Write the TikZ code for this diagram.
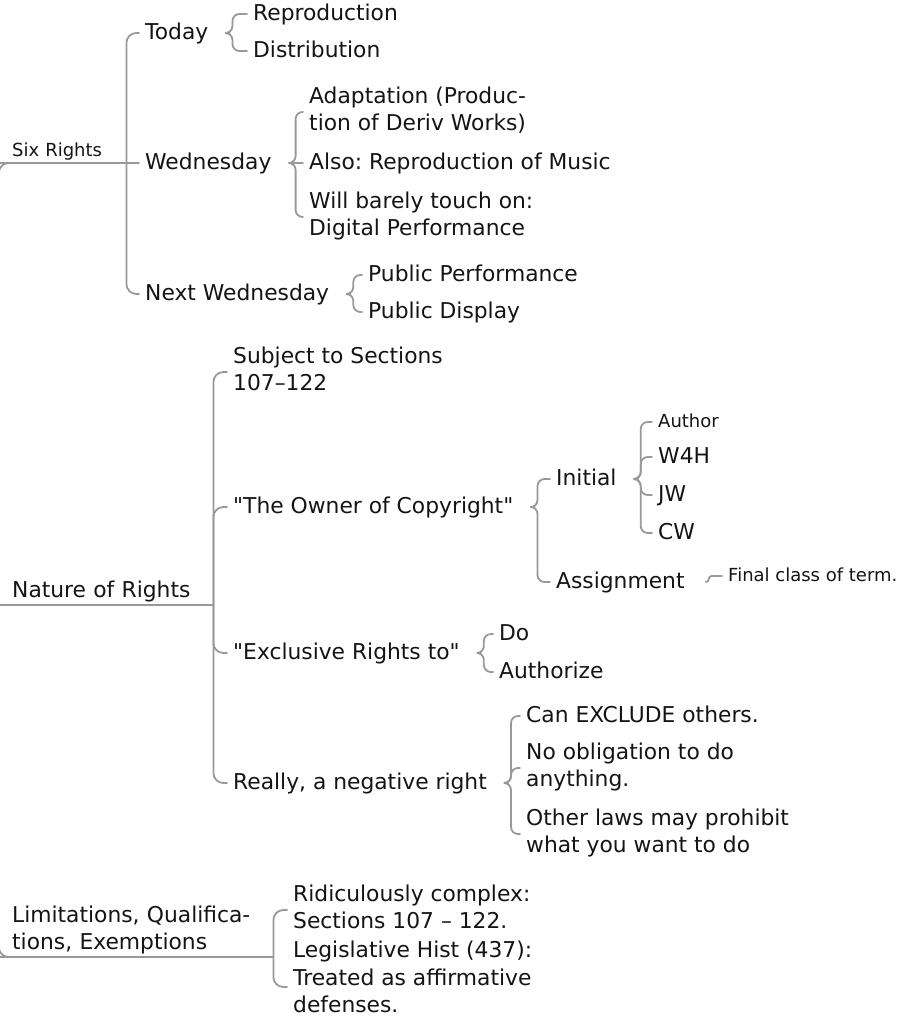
\documentclass[tikz,border=0pt]{standalone}
\usepackage{fontspec}
\setmainfont{DejaVu Sans}
\usepackage{tikz}

\definecolor{branchgray}{RGB}{153,153,153}
\definecolor{inkblack}{RGB}{20,20,20}
\newcommand{\bigtxt}{\fontsize{21.8}{27.3}\selectfont}
\newcommand{\smalltxt}{\fontsize{18}{22}\selectfont}
\newcommand{\mstrut}{\rule[-0.28em]{0pt}{1.12em}}

\tikzset{
	every node/.style={anchor=west, inner sep=0pt, align=left, text=inkblack, font=\bigtxt,
		execute at begin node=\mstrut, execute at end node=\mstrut},
	topic/.style={anchor=south west, inner xsep=4pt, inner ysep=1pt},
	wire/.style={draw=branchgray, line width=1.8pt, line cap=round},
	stem/.style={wire, rounded corners=10pt,
		to path={(\tikztostart) |- (\tikztotarget.south west) -- (\tikztotarget.south east)}},
	limb/.style={wire, rounded corners=10pt,
		to path={(\tikztostart.south east) |- ([xshift=-6pt]\tikztotarget.west)}},
	limbmid/.style={wire,
		to path={(\tikztostart.south east) -- ([xshift=-6pt]\tikztotarget.west)}},
	twig/.style={wire, rounded corners=7pt,
		to path={([xshift=21pt]\tikztostart.east) -- ++(3pt,0) |- ([xshift=-6pt]\tikztotarget.west)}},
	twigmid/.style={wire,
		to path={([xshift=21pt]\tikztostart.east) -- ([xshift=-6pt]\tikztotarget.west)}}
}

\begin{document}
\frenchspacing
\begin{tikzpicture}[x=1pt, y=-1pt]
	\useasboundingbox (0,0) rectangle (902,1032);
	
	% main topics
	\coordinate (root) at (-1.2,605);
	\node[topic, font=\smalltxt, text width=110pt] (six) at (8,163) {Six Rights};
	\node[topic, text width=197pt] (nature) at (8,605) {Nature of Rights};
	\node[topic, text width=257pt] (limits) at (8,957) {Limitations, Qualifica-\\tions, Exemptions};
	
	% six rights
	\node (today)   at (145,33)  {Today};
	\node (wed)     at (145,163) {Wednesday};
	\node (nextwed) at (145,294) {Next Wednesday};
	\node (repro)   at (253,14)  {Reproduction};
	\node (distrib) at (253,51)  {Distribution};
	\node (adapt)   at (309,112) {Adaptation (Produc-\\tion of Deriv Works)};
	\node (also)    at (309,163) {Also: Reproduction of Music};
	\node (barely)  at (309,217) {Will barely touch on:\\Digital Performance};
	\node (pubperf) at (368,275) {Public Performance};
	\node (pubdisp) at (368,312) {Public Display};
	
	% nature of rights
	\node (subj)   at (233,372) {Subject to Sections\\107–122};
	\node (owner)  at (233,507) {\textquotedbl The Owner of Copyright\textquotedbl};
	\node (excl)   at (233,653) {\textquotedbl Exclusive Rights to\textquotedbl};
	\node (really) at (233,783) {Really, a negative right};
	\node (initial) at (556,479) {Initial};
	\node (assign)  at (556,582) {Assignment};
	\node[font=\smalltxt] (author) at (658,422) {Author};
	\node (w4h) at (658,457) {W4H};
	\node (jw)  at (658,495) {JW};
	\node (cw)  at (658,533) {CW};
	\node[font=\smalltxt] (final) at (728,576) {Final class of term.};
	\node (do)        at (499,634) {Do};
	\node (authorize) at (499,672) {Authorize};
	\node (exclude)   at (526,716) {Can EXCLUDE others.};
	\node (noobl)     at (526,768) {No obligation to do\\anything.};
	\node (otherlaws) at (526,834) {Other laws may prohibit\\what you want to do};
	
	% limitations
	\node (ridic) at (293,910) {Ridiculously complex:\\Sections 107 – 122.};
	\node (legis) at (293,980) {Legislative Hist (437):\\Treated as affirmative\\defenses.};
	
	% branches
	\draw[stem] (root) to (six);
	\draw[wire] (root) -- (nature.south east);
	\draw[stem] (root) to (limits);
	
	\draw[limb] (six) to (today);
	\draw[limbmid] (six) to (wed);
	\draw[limb] (six) to (nextwed);
	\draw[twig] (today) to (repro);
	\draw[twig] (today) to (distrib);
	\draw[twig] (wed) to (adapt);
	\draw[twigmid] (wed) to (also);
	\draw[twig] (wed) to (barely);
	\draw[twig] (nextwed) to (pubperf);
	\draw[twig] (nextwed) to (pubdisp);
	
	\draw[limb] (nature) to (subj);
	\draw[limb] (nature) to (owner);
	\draw[limb] (nature) to (excl);
	\draw[limb] (nature) to (really);
	\draw[twig] (owner) to (initial);
	\draw[twig] (owner) to (assign);
	\draw[twig] (initial) to (author);
	\draw[twig] (initial) to (w4h);
	\draw[twig] (initial) to (jw);
	\draw[twig] (initial) to (cw);
	\draw[twig, rounded corners=3pt] (assign) to (final);
	\draw[twig] (excl) to (do);
	\draw[twig] (excl) to (authorize);
	\draw[twig] (really) to (exclude);
	\draw[twig] (really) to (noobl);
	\draw[twig] (really) to (otherlaws);
	
	\draw[limb] (limits) to (ridic);
	\draw[wire, rounded corners=10pt] (limits.south east) |- ([xshift=-6pt, yshift=-7pt]legis.west);
	
\end{tikzpicture}
\end{document}
